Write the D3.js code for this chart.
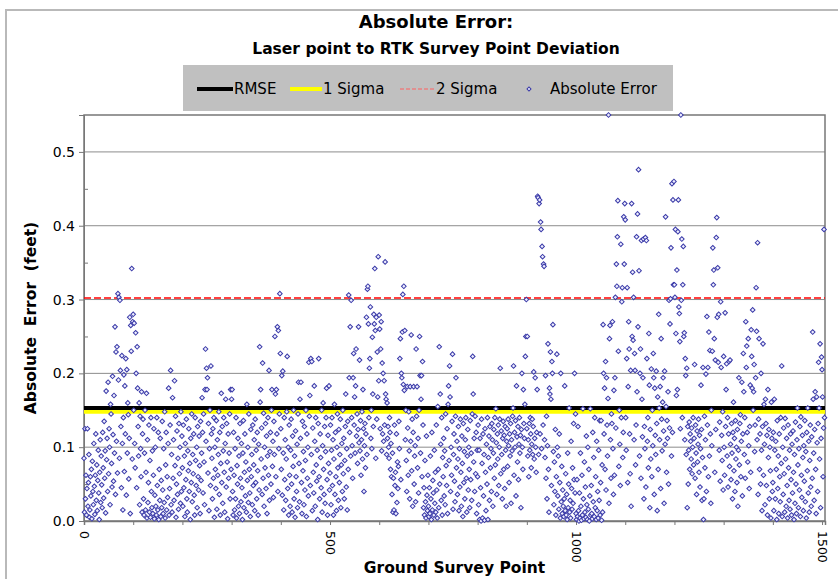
<!DOCTYPE html>
<html>
<head>
<meta charset="utf-8">
<script src="https://cdn.jsdelivr.net/npm/d3@7"></script>
<style>
  body { margin: 0; background: #fff; }
  svg text { font-family: "DejaVu Sans", sans-serif; fill: #000; }
</style>
</head>
<body>
<div id="chart"></div>
<script>
// absolute error for each ground survey point, thousandths of a foot (100 points per block)
const errPts0000 = [85,12,125,30,62,8,44,125,20,52,90,5,15,60,34,70,3,81,40,22,
  105,47,9,62,118,28,76,14,55,96,38,2,66,110,25,88,49,18,120,72,
  31,135,58,95,11,176,83,112,40,188,64,125,100,22,158,145,78,46,196,117,
  54,170,92,263,36,229,108,236,65,308,191,303,85,299,204,128,45,224,105,15,
  140,198,67,183,118,220,35,205,92,160,144,57,112,276,10,265,230,342,84,270];
const errPts0100 = [280,150,268,105,72,255,200,45,236,180,128,88,160,22,142,98,60,175,12,118,
  138,30,8,92,150,15,66,173,4,110,25,52,130,12,82,5,140,40,18,95,
  10,62,125,3,35,100,20,8,140,48,15,120,2,70,28,112,6,55,18,135,
  42,10,98,25,148,4,76,120,15,60,32,105,180,8,44,130,204,22,90,12,
  167,58,110,28,190,75,142,5,50,122,36,85,16,132,64,100,24,148,40,115];
const errPts0200 = [72,20,130,45,88,6,105,56,138,30,12,95,68,125,40,78,2,112,52,145,
  26,90,64,118,35,8,140,82,48,100,18,128,60,42,115,75,10,135,55,92,
  167,120,38,145,80,22,178,233,108,207,178,194,65,132,14,98,150,48,210,118,
  85,30,125,58,140,5,100,70,44,136,16,110,62,90,148,36,120,8,78,173,
  52,128,24,95,140,66,12,105,165,46,132,80,3,118,58,92,145,30,178,70];
const errPts0300 = [165,178,40,8,120,62,15,98,30,140,4,75,50,112,20,88,10,132,58,26,
  105,45,2,92,136,18,66,118,34,80,12,158,55,100,25,145,70,38,6,124,
  60,90,22,130,48,76,110,14,138,52,96,30,120,68,8,104,42,236,161,178,
  84,126,36,214,58,146,20,100,72,132,44,115,10,88,140,62,204,28,94,120,
  50,150,178,74,108,32,135,90,250,172,60,178,118,263,40,258,98,145,308,227];
const errPts0400 = [125,70,197,35,203,92,15,140,56,110,28,84,148,223,44,100,8,130,62,20,
  96,138,50,12,115,74,150,30,88,5,122,60,40,104,18,145,188,78,26,165,
  112,188,52,10,135,68,94,22,128,42,82,150,6,118,58,100,34,215,142,170,
  48,220,90,216,14,126,66,38,183,108,20,140,76,54,96,2,132,220,60,30,
  118,86,45,150,12,102,160,70,36,128,24,94,140,180,56,8,116,78,183,42];
const errPts0500 = [65,130,22,96,140,48,110,8,84,158,36,120,60,14,100,145,72,28,124,52,
  90,138,18,76,105,40,150,64,112,30,82,128,172,46,98,15,135,70,306,194,
  120,263,88,299,140,102,58,194,227,130,168,92,183,233,115,145,78,124,263,106,
  218,95,136,62,110,148,84,178,125,40,102,132,72,118,276,90,314,318,267,140,
  207,220,290,112,150,98,249,172,128,280,267,342,258,85,276,138,229,168,358,190];
const errPts0600 = [279,260,125,233,270,95,214,118,200,108,190,130,351,172,165,90,160,112,128,100,
  85,140,120,70,105,60,36,92,12,58,15,130,48,66,10,118,25,80,44,74,
  135,98,220,247,56,200,194,256,307,185,318,177,258,110,150,82,40,182,126,62,
  148,95,30,182,108,252,68,138,20,120,182,50,88,102,26,233,142,182,72,112,
  38,150,250,197,92,165,197,60,216,130,18,45,8,82,26,4,115,35,14,62];
const errPts0700 = [20,6,45,10,88,30,2,120,15,55,38,8,96,24,66,12,130,42,4,155,
  70,18,236,50,172,104,28,140,8,86,60,112,34,95,22,145,75,48,125,10,
  158,183,82,210,168,40,100,62,135,226,16,90,118,54,26,142,194,72,108,36,
  84,128,14,98,46,138,66,20,115,78,6,132,52,94,30,110,140,58,12,88,
  124,42,100,70,18,136,56,92,28,145,223,172,80,112,40,142,64,120,10,96];
const errPts0800 = [60,130,22,96,2,112,45,0,138,78,4,118,34,90,1,125,66,14,104,50,
  140,2,86,115,28,128,72,98,40,132,110,20,92,124,58,140,76,152,106,36,
  118,84,130,48,100,138,207,64,122,90,30,112,135,70,116,44,128,96,20,108,
  125,74,138,102,52,118,88,132,24,110,95,142,153,210,62,120,100,136,34,183,
  114,80,128,56,104,140,92,116,18,124,200,100,70,178,132,112,158,223,250,300];
const errPts0900 = [125,250,88,110,60,132,96,140,118,72,104,138,90,128,202,84,112,194,100,66,
  120,178,440,438,90,430,435,118,405,395,98,372,358,130,348,345,110,86,197,58,
  142,30,102,240,70,12,180,172,229,165,48,216,200,266,94,22,80,40,124,8,
  60,226,100,34,88,16,118,52,4,200,26,74,10,42,20,6,30,183,14,64,
  8,36,2,92,18,50,153,12,28,4,108,44,16,72,24,132,56,200,38,145];
const errPts1000 = [10,2,56,6,128,14,0,38,4,92,20,1,62,8,152,30,3,80,12,46,
  5,115,22,2,100,16,70,0,34,152,8,48,10,3,120,26,86,6,140,18,
  60,2,108,14,40,4,96,28,136,8,52,136,1,76,12,266,200,118,180,70,
  216,42,194,130,88,166,550,24,247,265,110,58,145,132,270,98,36,177,62,194,
  303,126,348,318,385,434,230,74,150,104,48,375,140,297,316,86,120,412,348,430];
const errPts1100 = [408,140,96,220,316,52,182,270,233,118,64,204,20,430,250,337,245,303,110,227,
  204,76,130,385,175,416,263,476,339,88,200,233,58,380,165,114,194,382,30,128,
  98,384,46,380,220,108,140,72,254,184,18,124,84,206,60,150,102,227,194,36,
  180,116,90,203,132,14,168,70,280,153,110,182,44,247,138,95,161,194,122,24,
  203,104,412,155,66,136,112,175,50,299,126,267,301,370,88,457,120,435,320,460];
const errPts1200 = [320,303,395,254,170,340,178,392,435,290,281,243,125,550,299,382,140,320,372,250,
  255,110,220,197,90,207,18,128,50,96,134,70,118,108,84,126,64,100,140,76,
  112,212,58,130,92,36,122,80,104,138,66,116,46,98,184,124,28,86,208,2,
  30,142,72,110,199,40,277,130,208,60,256,88,231,118,24,150,102,230,370,320,
  340,247,66,218,124,384,411,276,343,215,280,96,134,54,297,208,116,82,148,42];
const errPts1300 = [223,100,62,282,128,178,213,88,140,46,118,216,74,218,104,56,132,92,30,120,
  161,68,112,40,136,84,100,52,124,20,96,194,76,132,144,60,108,188,34,118,
  227,175,90,140,58,270,208,237,120,80,247,102,44,128,184,66,259,223,180,286,
  150,175,212,94,130,194,316,257,110,377,36,138,247,70,118,50,200,96,14,128,
  240,62,158,104,22,165,132,48,116,8,178,86,124,30,100,68,4,161,112,40];
const errPts1400 = [52,120,14,165,96,30,108,70,2,136,44,88,10,118,60,26,140,78,210,6,
  100,36,126,64,12,139,84,20,112,48,4,130,72,28,96,16,118,56,8,104,
  38,122,66,2,90,24,134,50,10,110,153,76,18,98,42,128,6,141,62,32,
  116,86,14,102,54,136,26,94,4,120,68,153,38,108,12,82,130,46,20,114,
  58,256,165,92,28,124,175,70,10,168,106,40,132,215,153,84,240,18,112,222,
  205,168,60,126,395,140];

// statistics lines (feet)
const rmse = 0.153;
const oneSigma = 0.148;
const twoSigma = 0.302;

const yTicks = [0, 0.1, 0.2, 0.3, 0.4, 0.5];
const yMinorTicks = [0.05, 0.15, 0.25, 0.35, 0.45];
const xTicks = d3.range(0, 1501, 100);
const xLabels = [0, 500, 1000, 1500];

const absErr = [].concat(errPts0000, errPts0100, errPts0200, errPts0300, errPts0400,
  errPts0500, errPts0600, errPts0700, errPts0800, errPts0900, errPts1000,
  errPts1100, errPts1200, errPts1300, errPts1400)
  .map((v, i) => ({ point: i, err: v / 1000 }));

const width = 838, height = 579;
const margin = { top: 115, right: 13, bottom: 58, left: 84 };

const svg = d3.select("#chart").append("svg")
  .attr("width", width)
  .attr("height", height);

// outer chart frame
svg.append("path")
  .attr("d", "M6,579V10H838")
  .attr("fill", "none")
  .attr("stroke", "#b9b9b9")
  .attr("stroke-width", 2);

const x = d3.scaleLinear().domain([0, 1506]).range([margin.left, width - margin.right]);
const y = d3.scaleLinear().domain([0, 0.55]).range([height - margin.bottom, margin.top]);

// gridlines
svg.append("g")
  .selectAll("line")
  .data(yTicks.slice(1))
  .join("line")
  .attr("x1", x(0)).attr("x2", x(1506))
  .attr("y1", d => y(d)).attr("y2", d => y(d))
  .attr("stroke", "#8c8c8c")
  .attr("stroke-width", 1);

// plot border
svg.append("rect")
  .attr("x", x(0)).attr("y", y(0.55))
  .attr("width", x(1506) - x(0))
  .attr("height", y(0) - y(0.55))
  .attr("fill", "none")
  .attr("stroke", "#777")
  .attr("stroke-width", 1.5);

// y axis
const yAxis = svg.append("g")
  .attr("transform", `translate(${x(0)},0)`)
  .call(d3.axisLeft(y).tickValues(yTicks).tickFormat(d3.format(".1f")).tickSize(5).tickPadding(4));
yAxis.select(".domain").attr("stroke", "#777");
yAxis.selectAll(".tick line").attr("stroke", "#777");
yAxis.selectAll("text").style("font-size", "14px");

svg.append("g")
  .attr("transform", `translate(${x(0)},0)`)
  .call(d3.axisLeft(y).tickValues(yMinorTicks).tickFormat("").tickSize(-4))
  .call(g => g.select(".domain").remove())
  .selectAll("line").attr("stroke", "#777");

// x axis
const xAxis = svg.append("g")
  .attr("transform", `translate(0,${y(0)})`)
  .call(d3.axisBottom(x).tickValues(xTicks)
    .tickFormat(d => xLabels.includes(d) ? d : "")
    .tickSize(4));
xAxis.select(".domain").attr("stroke", "#777").attr("stroke-width", 1.5);
xAxis.selectAll(".tick line").attr("stroke", "#777");
xAxis.selectAll("text")
  .style("font-size", "12.5px")
  .attr("text-anchor", "start")
  .attr("dy", null)
  .attr("y", 0)
  .attr("transform", "translate(-5,10) rotate(90)");

// statistic lines
svg.append("line")
  .attr("x1", x(0)).attr("x2", x(1506))
  .attr("y1", y(oneSigma)).attr("y2", y(oneSigma))
  .attr("stroke", "#ffff00").attr("stroke-width", 4);
svg.append("line")
  .attr("x1", x(0)).attr("x2", x(1506))
  .attr("y1", y(rmse)).attr("y2", y(rmse))
  .attr("stroke", "#000").attr("stroke-width", 4);
svg.append("line")
  .attr("x1", x(0)).attr("x2", x(1506))
  .attr("y1", y(twoSigma)).attr("y2", y(twoSigma))
  .attr("stroke", "#ff0000").attr("stroke-width", 1.5)
  .attr("stroke-dasharray", "7,3");

// points
const diamond = d3.symbol().type(d3.symbolSquare).size(11);
svg.append("g")
  .selectAll("path")
  .data(absErr)
  .join("path")
  .attr("d", diamond)
  .attr("transform", d => `translate(${x(d.point)},${y(d.err)}) rotate(45)`)
  .attr("fill", "#eef")
  .attr("stroke", "#3a3aa8")
  .attr("stroke-width", 1);

// titles
svg.append("text")
  .attr("x", 436).attr("y", 28)
  .attr("text-anchor", "middle")
  .style("font-size", "18px").style("font-weight", "bold")
  .text("Absolute Error:");
svg.append("text")
  .attr("x", 436).attr("y", 54)
  .attr("text-anchor", "middle")
  .style("font-size", "15.5px").style("font-weight", "bold")
  .text("Laser point to RTK Survey Point Deviation");

// axis titles
svg.append("text")
  .attr("transform", `translate(36,${(y(0) + y(0.55)) / 2}) rotate(-90)`)
  .attr("text-anchor", "middle")
  .style("font-size", "15.5px").style("font-weight", "bold")
  .style("white-space", "pre")
  .text("Absolute  Error  (feet)");
svg.append("text")
  .attr("x", (x(0) + x(1506)) / 2).attr("y", 573)
  .attr("text-anchor", "middle")
  .style("font-size", "15.5px").style("font-weight", "bold")
  .text("Ground Survey Point");

// legend
const legend = svg.append("g");
legend.append("rect")
  .attr("x", 183).attr("y", 65)
  .attr("width", 490).attr("height", 46)
  .attr("fill", "#c0c0c0");

const legendItems = [
  { label: "RMSE", x0: 197, x1: 233, tx: 234, color: "#000", w: 4, dash: null },
  { label: "1 Sigma", x0: 290, x1: 322, tx: 323, color: "#ffff00", w: 4, dash: null },
  { label: "2 Sigma", x0: 400, x1: 434, tx: 436, color: "#ff6060", w: 1, dash: "4,2" },
  { label: "Absolute Error", x0: null, x1: null, tx: 550, color: "#3a3aa8", w: 1, dash: null }
];
legendItems.forEach(item => {
  const g = legend.append("g");
  if (item.x0 !== null) {
    g.append("line")
      .attr("x1", item.x0).attr("x2", item.x1)
      .attr("y1", 89).attr("y2", 89)
      .attr("stroke", item.color)
      .attr("stroke-width", item.w)
      .attr("stroke-dasharray", item.dash);
  } else {
    g.append("path")
      .attr("d", d3.symbol().type(d3.symbolSquare).size(8))
      .attr("transform", "translate(529,89) rotate(45)")
      .attr("fill", "#eef")
      .attr("stroke", item.color);
  }
  g.append("text")
    .attr("x", item.tx).attr("y", 94)
    .style("font-size", "15px")
    .text(item.label);
});
</script>
</body>
</html>
